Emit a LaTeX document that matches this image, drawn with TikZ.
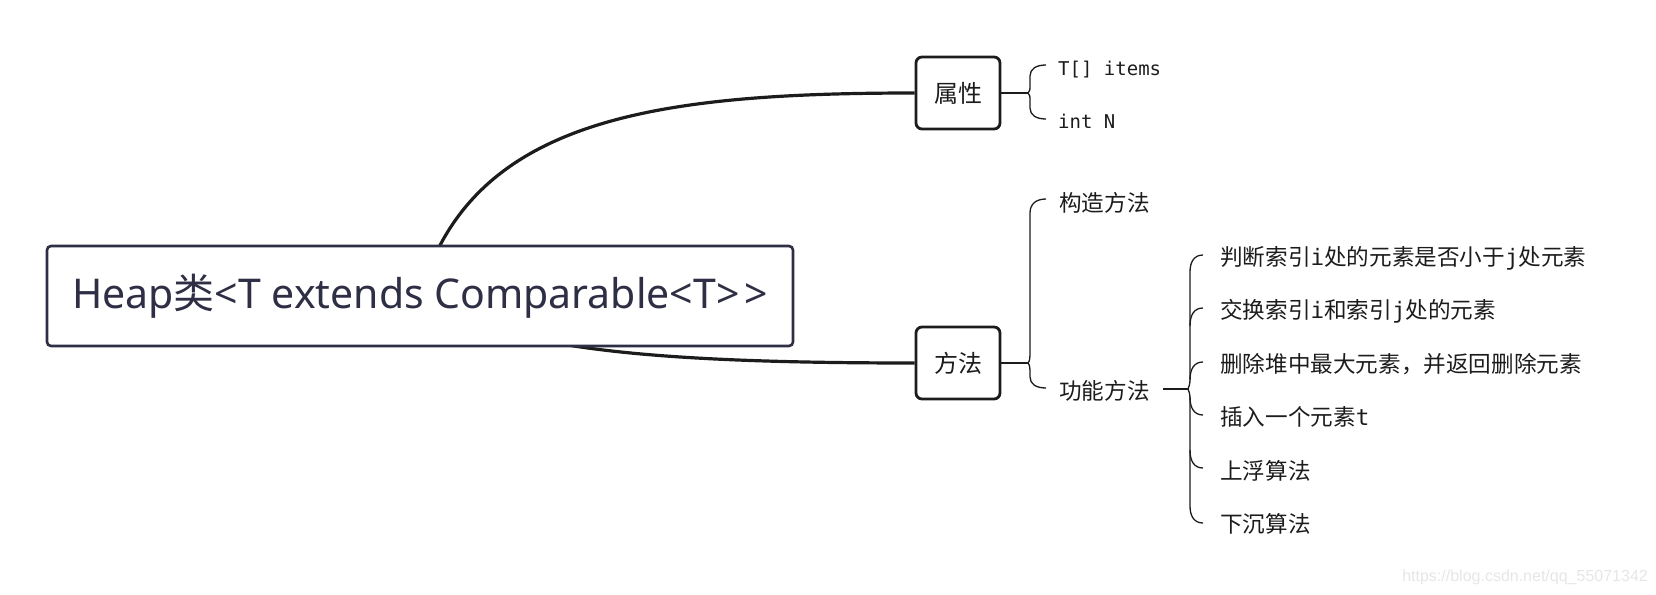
\documentclass[tikz,border=0pt]{standalone}
\usepackage{fontspec}
\setmainfont{Noto Sans}
\newfontfamily\cjk{Noto Sans CJK SC}
\newfontfamily\mono{DejaVu Sans Mono}
\newfontfamily\wm{Liberation Sans}
\usetikzlibrary{backgrounds}
\definecolor{rootc}{HTML}{2E2E45}
\definecolor{linec}{HTML}{1C1C1C}
\definecolor{wmc}{HTML}{E6E6E6}
\begin{document}
\begin{tikzpicture}[x=1pt,y=-1pt,
  rootbox/.style={draw=rootc, line width=2.6pt, rounded corners=4pt, fill=white, minimum width=746pt, minimum height=100pt, inner sep=0pt, text=rootc, font=\fontsize{41pt}{41pt}\selectfont},
  catbox/.style={draw=linec, line width=2.8pt, rounded corners=6pt, fill=white, minimum width=84pt, minimum height=72pt, inner sep=0pt, text=linec, font=\cjk\fontsize{24pt}{24pt}\selectfont},
  maincurve/.style={draw=linec, line width=3.2pt},
  thinline/.style={draw=linec, line width=1.3pt},
  midline/.style={draw=linec, line width=1.6pt},
  leaf/.style={anchor=base west, inner sep=0pt, font=\cjk\fontsize{22.6pt}{22.6pt}\selectfont, text=linec},
  codeleaf/.style={anchor=base west, inner sep=0pt, font=\mono\fontsize{19pt}{19pt}\selectfont, text=linec},
]
\useasboundingbox (0,0) rectangle (1656,594);

% nodes
\node[rootbox] (root) at (420,296) {Heap{\cjk 类}<T extends Comparable<T>{}\hspace{0.12em}>};
\node[catbox] (attr) at (958,93) {属性};
\node[catbox] (meth) at (958,363) {方法};

\node[codeleaf] (items) at (1058,75) {T[] items};
\node[codeleaf] (intn) at (1058,128) {int N};

\node[leaf] (ctor) at (1059,211) {构造方法};
\node[leaf] (func) at (1059,399) {功能方法};

\node[leaf] (f1) at (1220,265) {判断索引{\mono i}处的元素是否小于{\mono j}处元素};
\node[leaf] (f2) at (1220,318) {交换索引{\mono i}和索引{\mono j}处的元素};
\node[leaf] (f3) at (1220,372) {删除堆中最大元素，并返回删除元素};
\node[leaf] (f4) at (1220,425) {插入一个元素{\mono t}};
\node[leaf] (f5) at (1220,479) {上浮算法};
\node[leaf] (f6) at (1220,532) {下沉算法};

\node[anchor=base east, inner sep=0pt, font=\wm\fontsize{16pt}{16pt}\selectfont, text=wmc] (wm) at (1648,581) {https://blog.csdn.net/qq\_55071342};

% main curves behind the root box
\begin{scope}[on background layer]
\draw[maincurve] (root.center) .. controls (470,120) and (650,93) .. (attr.west);
\draw[maincurve] (root.center) .. controls (500,345) and (620,363) .. (meth.west);
\end{scope}

% brace for attributes
\coordinate (ab) at (1028,93);
\coordinate (a1) at (1046,65);
\coordinate (a2) at (1046,119);
\draw[midline] (attr.east) -- (ab);
\draw[thinline] (ab) .. controls (1030,92) and (1030,89) .. (1030,85) -- (1030,76) .. controls (1030,69) and (1036,65) .. (a1);
\draw[thinline] (ab) .. controls (1030,94) and (1030,97) .. (1030,101) -- (1030,108) .. controls (1030,115) and (1036,119) .. (a2);

% brace for methods
\coordinate (mb) at (1028,363);
\coordinate (m1) at (1046,199);
\coordinate (m2) at (1046,388);
\draw[midline] (meth.east) -- (mb);
\draw[thinline] (mb) .. controls (1030,361) and (1030,357) .. (1030,351) -- (1030,213) .. controls (1030,204) and (1036,199) .. (m1);
\draw[thinline] (mb) .. controls (1030,365) and (1030,369) .. (1030,374) -- (1030,377) .. controls (1030,384) and (1036,388) .. (m2);

% brace for function methods
\coordinate (fs) at (1163,389);
\coordinate (fb) at (1188,389);
\coordinate (c1) at (1203,255);
\coordinate (c2) at (1203,308);
\coordinate (c3) at (1203,362);
\coordinate (c4) at (1203,415);
\coordinate (c5) at (1203,468);
\coordinate (c6) at (1203,523);
\draw[line width=2pt, draw=linec] (fs) -- (fb);
\draw[thinline] (fb) .. controls (1189,387) and (1190,384) .. (1190,379) -- (1190,272) .. controls (1190,262) and (1194,255) .. (c1);
\draw[thinline] (fb) .. controls (1189,391) and (1190,394) .. (1190,399) -- (1190,506) .. controls (1190,516) and (1194,523) .. (c6);
\draw[thinline] (1190,326) .. controls (1190,315) and (1194,308) .. (c2);
\draw[thinline] (1190,380) .. controls (1190,369) and (1194,362) .. (c3);
\draw[thinline] (1190,397) .. controls (1190,408) and (1194,415) .. (c4);
\draw[thinline] (1190,450) .. controls (1190,461) and (1194,468) .. (c5);
\end{tikzpicture}
\end{document}
